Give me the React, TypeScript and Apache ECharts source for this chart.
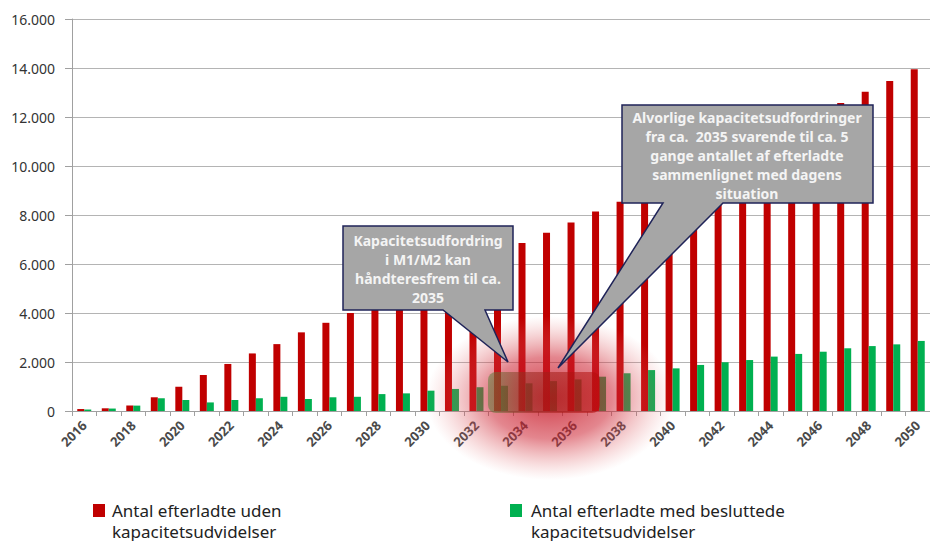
import React, { useEffect, useRef } from "react";
import * as echarts from "echarts";

const years = [
  "2016", "2017", "2018", "2019", "2020", "2021", "2022", "2023", "2024", "2025",
  "2026", "2027", "2028", "2029", "2030", "2031", "2032", "2033", "2034", "2035",
  "2036", "2037", "2038", "2039", "2040", "2041", "2042", "2043", "2044", "2045",
  "2046", "2047", "2048", "2049", "2050",
];

const redName = "Antal efterladte uden kapacitetsudvidelser";
const greenName = "Antal efterladte med besluttede kapacitetsudvidelser";

const redValues = [
  80, 110, 220, 560, 990, 1470, 1920, 2350, 2730, 3210,
  3600, 4000, 4400, 4850, 5300, 5750, 6150, 6500, 6860, 7280,
  7690, 8140, 8540, 8980, 9430, 9880, 10320, 10770, 11220, 11660,
  12110, 12570, 13030, 13470, 13950,
];

const greenValues = [
  60, 100, 220, 520, 450, 350, 450, 520, 580, 490,
  560, 580, 690, 720, 830, 900, 970, 1030, 1130, 1220,
  1290, 1400, 1540, 1670, 1740, 1880, 1990, 2080, 2220, 2330,
  2420, 2560, 2650, 2720, 2860,
];

const yTickValues = [0, 2000, 4000, 6000, 8000, 10000, 12000, 14000, 16000];
const yTickLabels = ["0", "2.000", "4.000", "6.000", "8.000", "10.000", "12.000", "14.000", "16.000"];

const callout1Lines = ["Kapacitetsudfordring", "i M1/M2 kan", "håndteresfrem til ca.", "2035"];
const callout2Lines = [
  "Alvorlige kapacitetsudfordringer",
  "fra ca.  2035 svarende til ca. 5",
  "gange antallet af efterladte",
  "sammenlignet med dagens",
  "situation",
];
const legendLines1 = ["Antal efterladte uden", "kapacitetsudvidelser"];
const legendLines2 = ["Antal efterladte med besluttede", "kapacitetsudvidelser"];

const RED = "#c00000";
const GREEN = "#00b050";
const FONT = "'Noto Sans', 'Open Sans', sans-serif";

export default function App() {
  const ref = useRef<HTMLDivElement>(null);

  useEffect(() => {
    if (!ref.current) return;
    const chart = echarts.init(ref.current, null, { renderer: "svg" });

    const calloutStyle = {
      fill: "#a6a6a6",
      stroke: "#1f2358",
      lineWidth: 1.5,
    };

    const legendText = (x: number, y: number, text: string) => ({
      type: "text",
      x,
      y,
      style: {
        text,
        fill: "#222222",
        font: `17px ${FONT}`,
        textAlign: "left",
        textVerticalAlign: "middle",
      },
    });

    const option: any = {
      animation: false,
      backgroundColor: "#ffffff",
      textStyle: { fontFamily: FONT },
      grid: { left: 72, top: 19, right: -7, bottom: 130 },
      xAxis: {
        type: "category",
        data: years,
        axisLine: { show: true, lineStyle: { color: "#a0a0a0", width: 1 } },
        axisTick: { show: true, interval: 0, length: 5, lineStyle: { color: "#a0a0a0" } },
        axisLabel: {
          show: true,
          interval: 1,
          rotate: 45,
          fontSize: 13,
          fontWeight: "bold",
          color: "#4a4a4a",
          fontFamily: FONT,
          margin: 12,
        },
      },
      yAxis: {
        type: "value",
        min: 0,
        max: 16000,
        interval: 2000,
        axisLine: { show: true, lineStyle: { color: "#a0a0a0", width: 1 } },
        axisTick: { show: true, length: 7, lineStyle: { color: "#a0a0a0" } },
        splitLine: { show: true, lineStyle: { color: "#b4b4b4", width: 1 } },
        axisLabel: {
          fontSize: 14,
          color: "#333333",
          fontFamily: FONT,
          margin: 17,
          formatter: (v: number) => {
            const i = yTickValues.indexOf(v);
            return i >= 0 ? yTickLabels[i] : String(v);
          },
        },
      },
      series: [
        {
          name: redName,
          type: "bar",
          data: redValues,
          barWidth: 7,
          barGap: "0%",
          itemStyle: { color: RED },
        },
        {
          name: greenName,
          type: "bar",
          data: greenValues,
          barWidth: 7,
          barGap: "0%",
          itemStyle: { color: GREEN },
        },
      ],
      graphic: [
        {
          type: "ellipse",
          z: 100,
          silent: true,
          shape: { cx: 550, cy: 398, rx: 124, ry: 82 },
          style: {
            fill: new echarts.graphic.RadialGradient(0.5, 0.5, 0.5, [
              { offset: 0, color: "rgba(195,10,25,0.8)" },
              { offset: 0.5, color: "rgba(205,35,50,0.55)" },
              { offset: 1, color: "rgba(230,120,120,0)" },
            ]),
          },
        },
        {
          type: "rect",
          z: 101,
          silent: true,
          shape: { x: 488, y: 372, width: 112, height: 41, r: 8 },
          style: {
            fill: new echarts.graphic.LinearGradient(0, 0, 1, 0, [
              { offset: 0, color: "rgba(90,130,60,0.55)" },
              { offset: 0.35, color: "rgba(150,40,30,0.55)" },
              { offset: 1, color: "rgba(185,10,10,0.55)" },
            ]),
          },
        },
        {
          type: "polygon",
          z: 110,
          shape: {
            points: [
              [343, 226], [513, 226], [513, 310], [485, 310], [508, 362], [443, 310], [343, 310],
            ],
          },
          style: calloutStyle,
        },
        {
          type: "text",
          z: 111,
          x: 428,
          y: 268.5,
          style: {
            text: callout1Lines.join("\n"),
            fill: "#f4f4f4",
            font: `bold 14px ${FONT}`,
            lineHeight: 19,
            textAlign: "center",
            textVerticalAlign: "middle",
          },
        },
        {
          type: "polygon",
          z: 110,
          shape: {
            points: [
              [622, 105], [873, 105], [873, 203], [723, 203], [558, 368], [663, 203], [622, 203],
            ],
          },
          style: calloutStyle,
        },
        {
          type: "text",
          z: 111,
          x: 747,
          y: 155,
          style: {
            text: callout2Lines.join("\n"),
            fill: "#f4f4f4",
            font: `bold 14px ${FONT}`,
            lineHeight: 19,
            textAlign: "center",
            textVerticalAlign: "middle",
          },
        },
        {
          type: "rect",
          shape: { x: 93, y: 504, width: 12, height: 13 },
          style: { fill: RED },
        },
        legendText(112, 510, legendLines1[0]),
        legendText(112, 531, legendLines1[1]),
        {
          type: "rect",
          shape: { x: 510, y: 504, width: 12, height: 13 },
          style: { fill: GREEN },
        },
        legendText(531, 510, legendLines2[0]),
        legendText(531, 531, legendLines2[1]),
      ],
    };

    chart.setOption(option);
    return () => chart.dispose();
  }, []);

  return (
    <div
      ref={ref}
      style={{ position: "fixed", left: 0, top: 0, width: 930, height: 541, background: "#fff" }}
    />
  );
}
